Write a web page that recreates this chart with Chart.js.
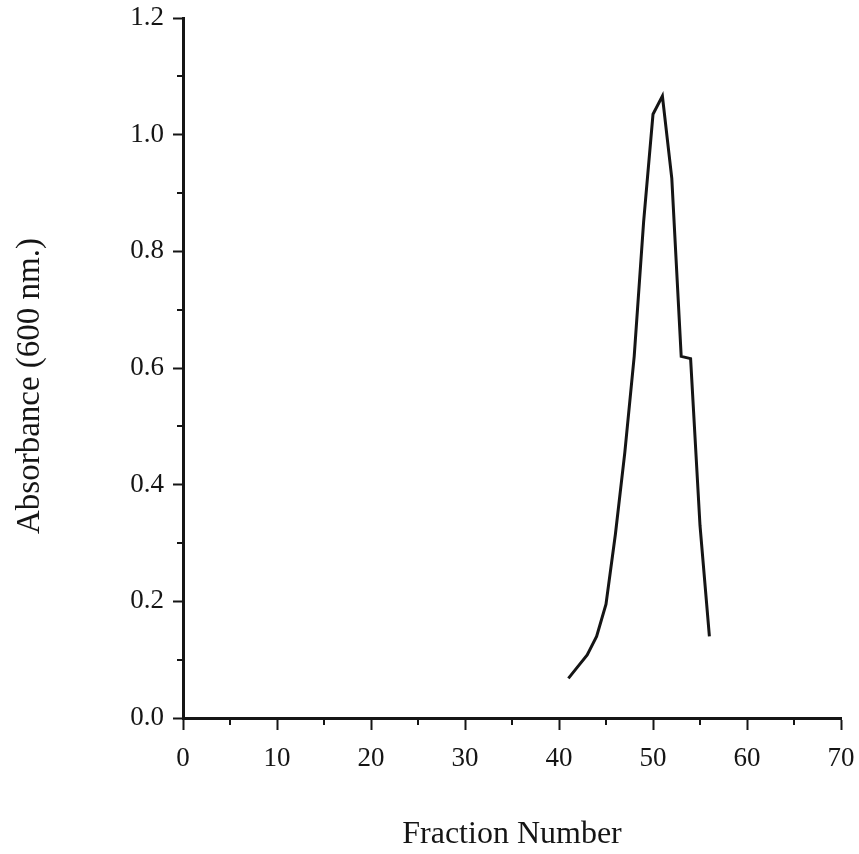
<!DOCTYPE html>
<html>
<head>
<meta charset="utf-8">
<script src="https://cdn.jsdelivr.net/npm/chart.js@4/dist/chart.umd.min.js"></script>
<style>
  html, body { margin: 0; padding: 0; background: #fff; }
  #wrap { width: 859px; height: 854px; }
</style>
</head>
<body>
<div id="wrap"><canvas id="c" width="859" height="854"></canvas></div>
<script>
// Elution profile: absorbance of each collected fraction
const fractions  = [41, 42, 43, 44, 45, 46, 47, 48, 49, 50, 51, 52, 53, 54, 55, 56];
const absorbance = [0.068, 0.088, 0.108, 0.140, 0.195, 0.315, 0.455, 0.620, 0.850, 1.035, 1.066, 0.925, 0.620, 0.616, 0.330, 0.140];

const xMajorTicks = [0, 10, 20, 30, 40, 50, 60, 70];
const xMinorTicks = [5, 15, 25, 35, 45, 55, 65];
const yMajorTicks = [0.0, 0.2, 0.4, 0.6, 0.8, 1.0, 1.2];
const yMinorTicks = [0.1, 0.3, 0.5, 0.7, 0.9, 1.1];

const xTitle = 'Fraction Number';
const yTitle = 'Absorbance (600 nm.)';

const INK = '#151515';
const SERIF = "'Liberation Serif', 'DejaVu Serif', serif";

// Short minor tick marks and the rotated y-axis title
const extras = {
  id: 'extras',
  afterDraw(chart) {
    const ctx = chart.ctx;
    const xs = chart.scales.x, ys = chart.scales.y;
    const area = chart.chartArea;
    ctx.save();
    ctx.strokeStyle = INK;
    ctx.lineWidth = 2;
    ctx.beginPath();
    xMinorTicks.forEach(v => {
      const px = Math.round(xs.getPixelForValue(v));
      ctx.moveTo(px, area.bottom);
      ctx.lineTo(px, area.bottom + 7);
    });
    yMinorTicks.forEach(v => {
      const py = Math.round(ys.getPixelForValue(v));
      ctx.moveTo(area.left - 6, py);
      ctx.lineTo(area.left, py);
    });
    ctx.stroke();

    ctx.translate(30, 386);
    ctx.rotate(-Math.PI / 2);
    ctx.fillStyle = INK;
    ctx.font = "33px " + SERIF;
    ctx.textAlign = 'center';
    ctx.textBaseline = 'middle';
    ctx.fillText(yTitle, 0, 0);
    ctx.restore();
  }
};

new Chart(document.getElementById('c'), {
  type: 'line',
  data: {
    datasets: [{
      data: fractions.map((f, i) => ({ x: f, y: absorbance[i] })),
      borderColor: INK,
      borderWidth: 3,
      pointRadius: 0,
      tension: 0,
      fill: false
    }]
  },
  options: {
    responsive: false,
    animation: false,
    layout: { padding: { top: 18, right: 18, left: 0, bottom: 0 } },
    plugins: { legend: { display: false }, tooltip: { enabled: false } },
    scales: {
      x: {
        type: 'linear',
        min: 0, max: 70,
        afterBuildTicks: s => { s.ticks = xMajorTicks.map(v => ({ value: v })); },
        afterFit: s => { s.height = 136; s.paddingLeft = 0; s.paddingRight = 0; },
        ticks: {
          color: INK,
          font: { family: SERIF, size: 27 },
          padding: 13,
          maxRotation: 0,
          callback: v => String(v)
        },
        grid: { drawOnChartArea: false, drawTicks: true, tickLength: 12, tickWidth: 2, tickColor: INK },
        border: { color: INK, width: 3 },
        title: {
          display: true,
          text: xTitle,
          color: INK,
          font: { family: SERIF, size: 32 },
          padding: { top: 0, bottom: 0 }
        }
      },
      y: {
        min: 0, max: 1.2,
        afterBuildTicks: s => { s.ticks = yMajorTicks.map(v => ({ value: v })); },
        afterFit: s => { s.width = 183; s.paddingTop = 0; s.paddingBottom = 0; },
        ticks: {
          color: INK,
          font: { family: SERIF, size: 27 },
          padding: 9,
          callback: v => Number(v).toFixed(1)
        },
        grid: { drawOnChartArea: false, drawTicks: true, tickLength: 10, tickWidth: 2, tickColor: INK },
        border: { color: INK, width: 3 }
      }
    }
  },
  plugins: [extras]
});
</script>
</body>
</html>
